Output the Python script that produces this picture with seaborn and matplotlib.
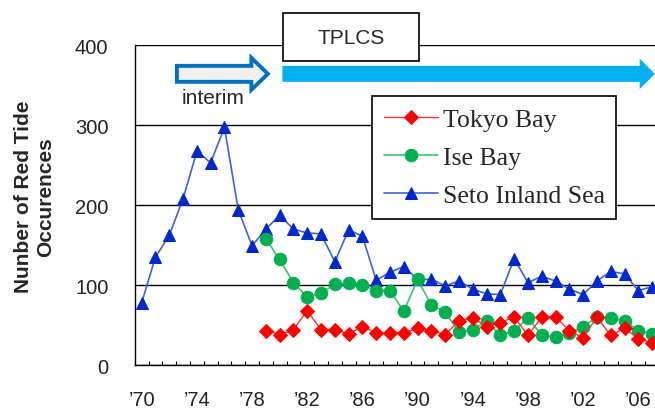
import numpy as np
import pandas as pd
import matplotlib
matplotlib.use('Agg')
import matplotlib.pyplot as plt
from matplotlib.patches import FancyArrow, Rectangle
import seaborn as sns

# red tide occurrences per year
years = list(range(1970, 2008))
seto = [78, 135, 162, 208, 267, 253, 297, 194, 149, 170,
        187, 170, 165, 164, 129, 169, 161, 106, 116, 123,
        107, 107, 99, 105, 95, 89, 88, 133, 103, 111,
        105, 95, 88, 105, 117, 114, 93, 98]

bay_years = list(range(1979, 2008))
tokyo = [43, 38, 44, 68, 44, 44, 39, 48, 40, 40, 40,
         46, 43, 38, 55, 59, 48, 53, 60, 37, 60,
         60, 43, 34, 60, 37, 46, 33, 28]
ise = [158, 132, 103, 85, 90, 101, 103, 100, 93, 93, 67,
       107, 75, 66, 41, 44, 55, 37, 43, 59, 37,
       35, 40, 48, 60, 59, 55, 43, 39]

tick_years = list(range(1970, 2007, 4))
tick_labels = ["\u2019" + str(y)[2:] for y in tick_years]
y_ticks = [0, 100, 200, 300, 400]

sns.set_style('white')
plt.rcParams['font.family'] = ['Liberation Sans', 'DejaVu Sans']

fig = plt.figure(figsize=(6.55, 4.14), dpi=100)
ax = fig.add_axes([0.2058, 0.1159, 0.8003, 0.7729])

df_seto = pd.DataFrame({'year': years, 'count': seto})
df_ise = pd.DataFrame({'year': bay_years, 'count': ise})
df_tokyo = pd.DataFrame({'year': bay_years, 'count': tokyo})

sns.lineplot(data=df_seto, x='year', y='count', ax=ax, color='#3F63D4', lw=1.2,
             marker='^', ms=9, mfc='#0028CC', mec='#0028CC', label='Seto Inland Sea', zorder=3)
sns.lineplot(data=df_ise, x='year', y='count', ax=ax, color='#3CC46E', lw=1.2,
             marker='o', ms=9, mfc='#00B050', mec='#00B050', label='Ise Bay', zorder=4)
sns.lineplot(data=df_tokyo, x='year', y='count', ax=ax, color='#FF3030', lw=1.0,
             marker='D', ms=7, mfc='#FF0000', mec='#FF0000', label='Tokyo Bay', zorder=5)

ax.set_xlim(1969.5, 2007.5)
ax.set_ylim(0, 400)
ax.set_xlabel('')
ax.set_ylabel('Nunber of Red Tide\nOccurences', fontsize=15, fontweight='bold')
ax.yaxis.set_label_coords(-0.152, 0.528)

ax.set_yticks(y_ticks)
ax.set_xticks(tick_years)
ax.set_xticklabels(tick_labels)
ax.set_xticks(np.arange(1969.5, 2008, 1), minor=True)
ax.tick_params(axis='y', length=0, pad=19, labelsize=14.5, labelcolor='#222222')
ax.tick_params(axis='x', which='major', length=0, pad=18, labelsize=14.5, labelcolor='#222222')
ax.tick_params(axis='x', which='minor', direction='in', length=3, width=0.8, bottom=True, color='black')

ax.yaxis.grid(True, color='black', lw=1.0)
ax.xaxis.grid(False)
ax.set_axisbelow(True)
for side in ['top', 'right']:
    ax.spines[side].set_visible(False)
for side in ['left', 'bottom']:
    ax.spines[side].set_color('black')
    ax.spines[side].set_linewidth(1.0)

# legend in Tokyo / Ise / Seto order
handles, labels = ax.get_legend_handles_labels()
order = [labels.index(n) for n in ['Tokyo Bay', 'Ise Bay', 'Seto Inland Sea']]
leg = ax.legend([handles[i] for i in order], [labels[i] for i in order],
                loc='upper left', bbox_to_anchor=(0.4525, 0.8406), borderaxespad=0,
                frameon=True, fancybox=False, edgecolor='black', framealpha=1,
                prop={'family': 'Liberation Serif', 'size': 18.5},
                handlelength=2.1, handletextpad=0.2, labelspacing=0.6, borderpad=0.45)
leg.get_frame().set_linewidth(1.2)
leg.set_zorder(6)

# TPLCS period arrows
ax.add_patch(FancyArrow(1980.2, 364, 27.0, 0, width=20, head_width=38, head_length=1.1,
                        length_includes_head=True, fc='#00B0F0', ec='none', lw=0,
                        clip_on=False, zorder=7))
ax.add_patch(FancyArrow(1972.55, 364, 6.6, 0, width=20, head_width=40, head_length=1.2,
                        length_includes_head=True, fc='#EFEFEF', ec='#0070C0', lw=2.8,
                        clip_on=False, zorder=7))
ax.text(1975.17, 335, 'interim', fontsize=15, ha='center', va='center', zorder=7)

ax.add_patch(Rectangle((1980.22, 380.4), 9.9, 59.6, fc='white', ec='black', lw=1.2,
                       clip_on=False, zorder=7))
ax.text(1985.17, 410, 'TPLCS', fontsize=15, ha='center', va='center', zorder=8)

fig.savefig('out.png', dpi=100)
